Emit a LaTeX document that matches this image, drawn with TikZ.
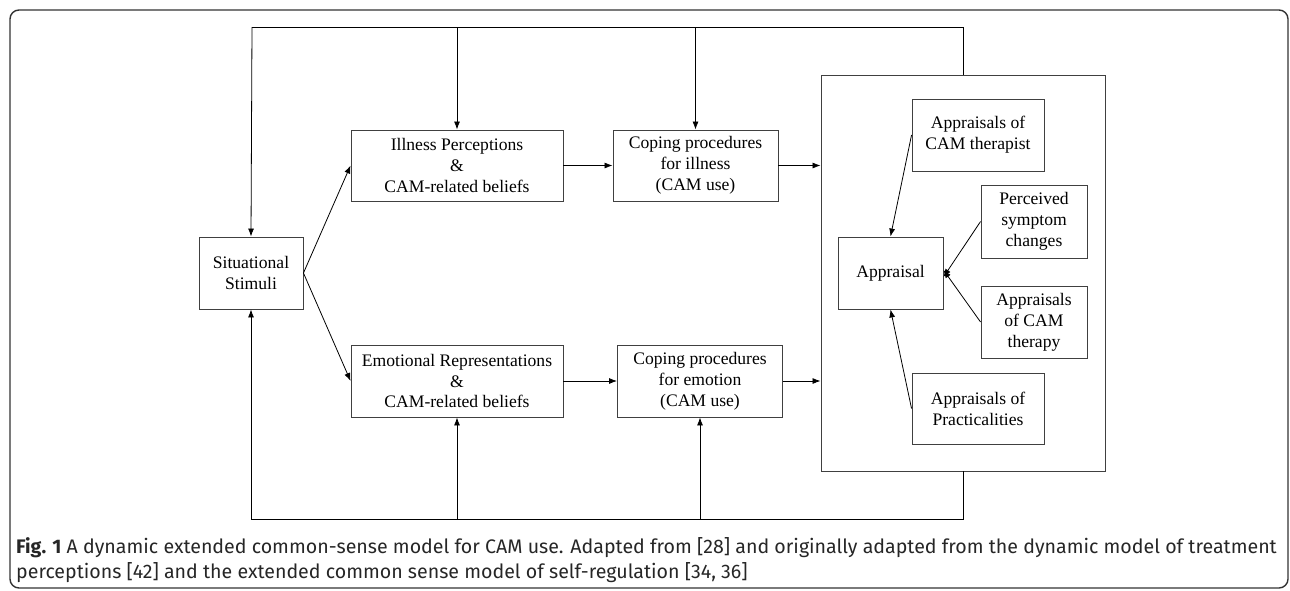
\documentclass[tikz,border=0pt]{standalone}
\usepackage{fontspec}
\setmainfont{Liberation Serif}
\newfontfamily\capfont{Fira Sans}
\usetikzlibrary{arrows.meta}
\tikzset{
  blk/.style={draw=black!75, line width=0.9pt, align=center, inner sep=0pt,
    font=\fontsize{17.6}{20.8}\selectfont},
  arr/.style={-{Latex[length=8pt,width=6pt]}, line width=0.8pt},
  ln/.style={line width=0.8pt},
}
\begin{document}
\begin{tikzpicture}[x=1pt,y=-1pt]
\useasboundingbox (0,0) rectangle (1290,590);
\draw[black!80, line width=1.4pt, rounded corners=9pt] (10,10) rectangle (1288,588);

% model boxes
\node[blk, minimum width=104pt, minimum height=72pt] (stim) at (251,273) {Situational\\Stimuli};
\node[blk, minimum width=212pt, minimum height=71pt] (illness) at (457,165.5) {Illness Perceptions\\\&\\CAM-related beliefs};
\node[blk, minimum width=165pt, minimum height=71pt] (copill) at (695.5,165.5) {Coping procedures\\for illness\\(CAM use)};
\node[blk, minimum width=212pt, minimum height=72pt] (emo) at (457,381) {Emotional Representations\\\&\\CAM-related beliefs};
\node[blk, minimum width=165pt, minimum height=72pt] (copemo) at (700,381) {Coping procedures\\for emotion\\(CAM use)};

% appraisal panel
\node[blk, minimum width=284pt, minimum height=396pt] (panel) at (963,273) {};
\node[blk, minimum width=132pt, minimum height=72pt] (ther) at (978,135) {Appraisals of\\CAM therapist};
\node[blk, minimum width=106pt, minimum height=73pt] (perc) at (1034,221.5) {Perceived\\symptom\\changes};
\node[blk, minimum width=105pt, minimum height=72pt] (appr) at (890.5,273) {Appraisal};
\node[blk, minimum width=106pt, minimum height=72pt] (thrpy) at (1034,322) {Appraisals\\of CAM\\therapy};
\node[blk, minimum width=132pt, minimum height=71pt] (prac) at (978,408.5) {Appraisals of\\Practicalities};

% feedback loops
\coordinate (tl) at (252,27);
\coordinate (bl) at (251,519);
\draw[ln] (panel.north) -- (panel.north |- tl) -- (tl);
\draw[arr] (tl) -- (stim.north);
\draw[arr] (tl -| illness) -- (illness.north);
\draw[arr] (tl -| copill) -- (copill.north);
\draw[ln] (panel.south) -- (panel.south |- bl) -- (bl);
\draw[arr] (bl) -- (stim.south);
\draw[arr] (bl -| emo) -- (emo.south);
\draw[arr] (bl -| copemo) -- (copemo.south);

\draw[arr] (stim.east) -- (illness.west);
\draw[arr] (stim.east) -- (emo.west);
\draw[arr] (illness) -- (copill);
\draw[arr] (emo) -- (copemo);
\draw[arr] (copill.east) -- (panel.west |- copill);
\draw[arr] (copemo.east) -- (panel.west |- copemo);

\draw[arr] (ther.west) -- (appr.north);
\draw[arr] (perc.west) -- ([yshift=-4pt]appr.east);
\draw[arr] (thrpy.west) -- ([yshift=3pt]appr.east);
\draw[arr] (prac.west) -- (appr.south);

\node[anchor=north west, align=left, inner sep=0pt, text=black!85,
  font=\capfont\fontsize{19.6}{25}\selectfont] (cap) at (16,537)
  {\textbf{Fig. 1} A dynamic extended common-sense model for CAM use. Adapted from [28] and originally adapted from the dynamic model of treatment\\
   perceptions [42] and the extended common sense model of self-regulation [34, 36]};
\end{tikzpicture}
\end{document}
